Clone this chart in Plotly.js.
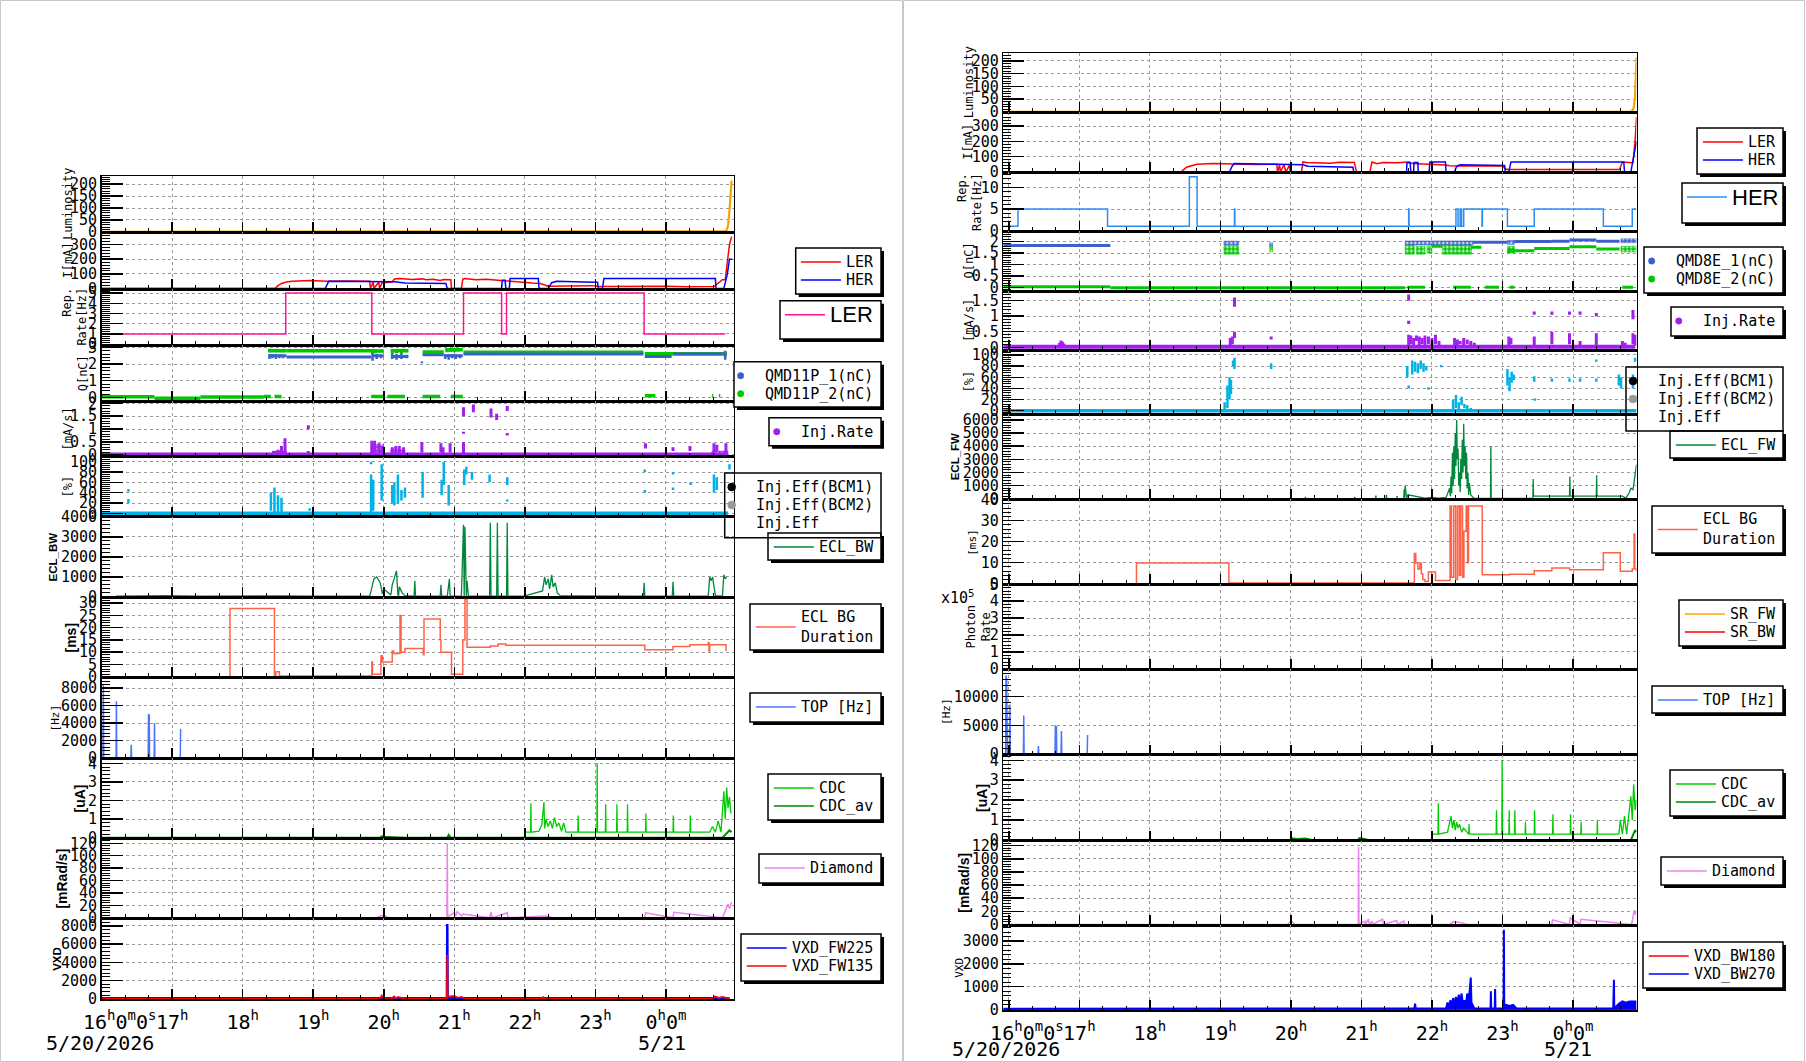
<!DOCTYPE html>
<html>
<head>
<meta charset="utf-8">
<script src="https://cdn.plot.ly/plotly-3.0.1.min.js"></script>
<style>
html,body{margin:0;padding:0;background:#ffffff;overflow:hidden;}
#chart{width:1806px;height:1062px;}
</style>
</head>
<body>
<div id="chart"></div>
<script>
/* ================= DATA : time = hours after 16:00 on 5/20/2026 ================= */
const hourTicks  = [0,1,2,3,4,5,6,7,8];
const hourLabels = ['\u00a0\u00a0\u00a016<sup>h</sup>0<sup>m</sup>0<sup>s</sup>','17<sup>h</sup>','18<sup>h</sup>','19<sup>h</sup>','20<sup>h</sup>','21<sup>h</sup>','22<sup>h</sup>','23<sup>h</sup>','0<sup>h</sup>0<sup>m</sup>'];
const dateLabels = ['5/20/2026','5/21'];

/* ---------- left column (LER side) ---------- */
const lumL_t = [0, 8.80, 8.83, 8.86, 8.88, 8.90, 8.92, 8.93];
const lumL_v = [0, 0, 3, 8, 25, 90, 200, 215];

const lerL_t = [0,2.46,2.50,2.55,2.62,2.70,2.95,3.20,3.50,3.80,3.81,3.85,3.86,3.93,3.94,3.98,4.00,4.12,4.15,4.22,4.40,4.55,4.60,4.70,4.80,4.85,4.95,4.96,5.10,5.12,5.15,5.30,5.45,5.60,5.70,5.75,5.88,5.95,6.10,6.22,6.33,6.95,7.05,8.00,8.30,8.68,8.72,8.80,8.84,8.87,8.90,8.93];
const lerL_v = [0,0,20,35,45,50,55,50,52,50,0,45,0,45,0,45,40,45,65,68,62,66,60,64,55,62,60,0,0,65,68,60,64,58,55,50,45,40,38,35,16,20,14,16,12,14,30,60,60,200,300,354];
const herL_t = [0,3.17,3.22,3.80,3.85,4.15,4.30,4.60,4.88,4.90,5.67,5.68,5.72,5.73,5.78,5.79,6.19,6.20,6.33,6.38,6.45,6.84,7.03,7.04,7.10,7.12,8.70,8.71,8.82,8.87,8.90,8.94];
const herL_v = [0,0,50,50,46,46,38,36,34,0,0,56,56,0,0,68,68,0,0,40,50,45,43,0,0,68,68,0,0,100,200,200];

const repL_t = [0, 2.61, 3.83, 5.13, 5.67, 5.74, 7.69, 8.84];
const repL_v = [1, 5, 1, 5, 1, 5, 1, 1];

const qL1_t = [2.37,2.62,null,2.62,3.82,null,3.84,4.0,null,4.1,4.35,null,4.55,4.85,null,4.87,5.12,null,5.13,7.68,null,7.7,8.08,null,8.1,8.86];
const qL1_v = [2.5,2.5,null,2.42,2.42,null,2.5,2.5,null,2.45,2.45,null,2.55,2.55,null,2.5,2.5,null,2.6,2.6,null,2.45,2.45,null,2.6,2.6];
const qL1s_t  = [2.38,2.42,2.47,2.52,2.57,3.84,3.9,3.96,4.12,4.18,4.25,4.32,4.54,4.87,4.92,4.97,5.02,5.08,5.55,8.84];
const qL1s_lo = [2.3,2.35,2.3,2.35,2.35,2.2,2.3,2.35,2.3,2.25,2.3,2.35,2.05,2.3,2.25,2.35,2.3,2.35,2.55,2.25];
const qL1s_hi = [2.6,2.6,2.6,2.55,2.55,2.6,2.6,2.55,2.6,2.6,2.6,2.55,2.15,2.6,2.6,2.6,2.6,2.55,2.62,2.6];
const qL2_t = [2.37,2.62,null,2.62,3.82,null,3.84,4.0,null,4.1,4.35,null,4.55,4.85,null,4.87,5.12,null,5.13,7.68,null,7.7,8.86,null,0,0.75,null,0.75,1.4,null,1.4,2.3,null,2.3,2.4,null,2.45,2.55,null,3.82,4.0,null,4.05,4.3,null,4.55,4.8,null,4.95,5.12,null,7.7,7.85,null,8.65,8.67,null,8.75,8.77];
const qL2_v = [2.8,2.8,null,2.8,2.8,null,2.78,2.78,null,2.8,2.8,null,2.72,2.72,null,2.85,2.85,null,2.7,2.7,null,2.62,2.62,null,0.03,0.03,null,-0.05,-0.05,null,0.02,0.02,null,0.05,0.05,null,0.05,0.05,null,0.05,0.05,null,0.05,0.05,null,0.05,0.05,null,0.05,0.05,null,0.1,0.1,null,0.1,0.1,null,0.1,0.1];
const qL2s_t  = [2.38,2.42,2.47,2.52,2.57,3.84,3.88,3.96,4.12,4.18,4.25,4.32,4.9,4.95,5.0,5.05,8.84];
const qL2s_lo = [2.7,2.72,2.7,2.72,2.7,2.6,2.65,2.7,2.6,2.65,2.6,2.7,2.7,2.72,2.7,2.75,2.5];
const qL2s_hi = [2.92,2.9,2.92,2.9,2.9,2.9,2.88,2.85,2.9,2.85,2.88,2.85,2.95,2.92,2.9,2.9,2.8];

const injLb_t = [0, 0.45, 0.47, 0.55, 8.85];
const injLb_v = [0.02, 0.02, 0.05, 0.02, 0.02];
const injLs_t  = [2.44,2.5,2.55,2.6,2.93,2.93,3.83,3.87,3.93,3.98,4.12,4.17,4.22,4.28,4.54,4.81,4.84,4.94,5.13,5.13,5.13,5.27,5.52,5.6,5.75,5.75,7.71,8.1,8.34,8.68,8.72,8.85];
const injLs_lo = [0,0,0,0,0.05,1.0,0,0.1,0,0,0,0.05,0,0.05,0.1,0.1,0.05,0.1,0,1.5,0.82,1.65,1.45,1.35,1.7,0.75,0.25,0.15,0.15,0.1,0.15,0];
const injLs_hi = [0.15,0.2,0.35,0.65,0.15,1.15,0.55,0.55,0.45,0.35,0.3,0.35,0.35,0.3,0.5,0.45,0.3,0.45,0.5,1.85,0.9,1.95,1.8,1.6,1.9,0.85,0.45,0.3,0.35,0.45,0.4,0.45];
const injLbox_t0 = [2.42, 3.82, 4.10, 8.65];
const injLbox_t1 = [2.62, 4.00, 4.30, 8.88];
const injLbox_lo = [0, 0, 0, 0];
const injLbox_hi = [0.15, 0.4, 0.2, 0.15];

const effLb_t = [0, 8.88];
const effLb_v = [0, 0];
const effLs_t  = [0.38,0.38,2.40,2.45,2.50,2.55,2.95,3.82,3.82,3.85,3.97,4.12,4.15,4.20,4.25,4.30,4.55,4.82,4.85,4.92,5.14,5.17,5.25,5.50,5.75,5.75,7.70,7.70,8.10,8.10,8.35,8.68,8.72,8.90];
const effLs_lo = [20,42,5,0,0,0,5,0,95,5,25,20,15,20,25,30,30,35,55,15,55,75,65,60,55,23,40,80,75,45,55,40,45,85];
const effLs_hi = [28,47,40,50,35,30,10,75,100,65,95,55,60,75,45,50,80,65,100,55,85,90,80,75,70,27,45,85,80,50,60,75,70,95];

const eclL_t = [0.2,0.5,0.75,0.9,1.4,1.8,2.2,2.6,3.0,3.4,3.8,3.82,3.86,3.9,3.95,3.98,4.0,4.05,4.1,4.12,4.15,4.18,4.2,4.21,4.22,4.26,4.3,4.35,4.43,4.44,4.45,4.6,4.8,4.81,4.82,4.9,4.93,4.94,4.95,5.1,5.13,5.14,5.15,5.17,5.18,5.2,5.35,5.5,5.51,5.52,5.6,5.61,5.62,5.74,5.75,5.76,5.8,6.0,6.25,6.28,6.3,6.33,6.35,6.38,6.4,6.43,6.46,6.5,6.8,7.2,7.5,7.68,7.69,7.7,8.0,8.09,8.1,8.11,8.5,8.6,8.62,8.64,8.66,8.7,8.8,8.82,8.84,8.86];
const eclL_v = [40,50,40,60,40,50,40,50,40,45,50,300,900,1000,700,150,400,250,100,600,900,1300,100,80,500,200,60,40,40,800,40,40,40,600,40,40,900,50,40,40,3600,40,3500,40,800,40,40,40,3700,40,40,3700,40,40,3700,40,40,50,300,1000,600,900,400,1100,500,700,200,60,50,60,40,40,700,40,40,40,750,40,40,40,1000,800,1000,60,40,1100,900,1000];

const durL_t = [1.82,1.82,2.45,2.47,2.52,3.83,3.84,3.96,3.98,4.12,4.14,4.23,4.245,4.30,4.56,4.57,4.80,4.81,4.96,5.12,5.15,5.18,5.51,5.62,5.73,7.70,8.10,8.34,8.60,8.61,8.62,8.85];
const durL_v = [0,27.8,0.3,2,0.3,6,1,8.5,6,10.5,9.5,25,10,11.5,9,23.5,15,10,1,15,31.5,12,12.5,13.3,12.8,11,12.3,13,14,10.5,13,10.5];

const topL_t = [0,0.02,0.025,0.03,0.205,0.21,0.215,0.415,0.42,0.425,0.66,0.665,0.67,0.675,0.68,0.745,0.75,0.755,1.115,1.12];
const topL_v = [0,0,8500,0,0,6500,0,0,1500,0,0,5000,0,4900,0,0,4000,0,0,3300];

const cdcL_t = [0,6.0,6.0,6.08,6.085,6.09,6.2,6.24,6.27,6.28,6.3,6.33,6.36,6.39,6.42,6.45,6.48,6.52,6.55,6.58,6.75,6.755,6.76,7.02,7.025,7.03,7.14,7.145,7.15,7.3,7.305,7.31,7.45,7.455,7.46,7.71,7.715,7.72,8.1,8.105,8.11,8.34,8.345,8.35,8.62,8.66,8.7,8.74,8.78,8.8,8.82,8.84,8.86,8.88,8.9,8.92];
const cdcL_v = [0,0,0.3,0.3,1.85,0.3,0.35,0.7,1.9,0.5,1.0,0.6,0.9,0.5,1.1,0.6,0.8,0.35,0.8,0.3,0.3,1.2,0.3,0.3,4.0,0.3,0.3,1.8,0.3,0.3,1.8,0.3,0.3,1.8,0.3,0.3,1.3,0.3,0.3,1.2,0.3,0.3,1.2,0.3,0.3,0.6,0.3,0.9,0.3,1.2,2.5,1.0,2.7,1.6,2.2,1.3];
const cdcAvL_t = [0,3.95,3.97,4.0,4.3,4.9,4.92,4.95,8.8,8.85,8.9,8.93];
const cdcAvL_v = [0,0,0.08,0.05,0,0,0.15,0,0,0.2,0.4,0.3];

const diaL_t = [0,3.9,3.95,4.0,4.05,4.1,4.895,4.9,4.905,5.0,5.02,5.04,5.1,5.12,5.5,5.52,5.54,5.75,5.76,6.3,6.4,7.7,7.71,8.1,8.11,8.8,8.85,8.88,8.9,8.93];
const diaL_v = [0,0,3,4,1,0,0,120,2,8,3,10,3,6,0,9,0,8,0,3,0,0,8,0,9,0,12,22,15,25];

const vxd225L_t = [0,4.895,4.9,4.905,8.9];
const vxd225L_v = [60,60,8200,60,60];
const vxd135L_t = [0,3.95,3.97,3.99,4.01,4.1,4.15,4.17,4.2,4.3,4.895,4.9,4.905,4.95,5.0,5.05,5.1,5.15,6.25,6.26,6.27,8.65,8.7,8.75,8.8,8.9];
const vxd135L_v = [10,10,350,150,10,10,250,10,200,10,10,4800,300,250,300,100,200,10,10,250,10,10,250,100,200,10];

/* ---------- right column (HER side) ---------- */
const lumR_t = [-0.078,8.82,8.84,8.86,8.88,8.89,8.90];
const lumR_v = [0,0,5,15,60,180,215];

const lerR_t = [-0.078,2.44,2.48,2.52,2.58,2.67,2.9,3.2,3.5,3.8,3.81,3.84,3.85,3.9,3.93,3.98,3.99,4.15,4.17,4.22,4.56,4.69,4.9,4.93,5.12,5.15,5.22,5.3,5.5,5.68,5.72,6.19,6.25,6.4,7.0,7.04,7.07,8.66,8.7,8.8,8.85,8.88,8.9];
const lerR_v = [0,0,15,30,38,50,54,50,48,50,0,45,0,45,0,45,0,0,65,61,57,63,62,0,0,65,54,62,60,65,54,45,40,38,38,20,15,15,65,62,60,200,360];
const herR_t = [-0.078,3.13,3.17,3.2,3.8,4.17,4.24,4.69,4.88,4.89,5.64,5.645,5.69,5.70,5.74,5.745,5.8,5.805,5.96,5.97,6.19,6.2,6.32,6.35,6.4,7.03,7.04,7.09,7.12,8.72,8.73,8.82,8.86,8.9];
const herR_v = [0,0,40,54,50,46,37,30,30,0,0,60,60,0,0,62,62,0,0,65,65,0,0,37,46,41,0,0,65,65,0,0,100,200];

const repR_t = [-0.078,0.13,1.40,2.56,2.67,3.20,3.205,5.67,5.675,6.34,6.37,6.40,6.42,6.45,6.71,6.715,7.07,7.45,8.43,8.84,8.9];
const repR_v = [1,5,1,12.5,1,5,1,5,1,5,1,5,1,5,1,5,1,5,1,5,5];

const qR1_t = [-0.078,1.44,null,6.58,7.07,null,7.17,7.7,null,7.7,7.95,null,7.95,8.33,null,8.33,8.66];
const qR1_v = [1.83,1.83,null,1.97,1.97,null,2.0,2.0,null,2.02,2.02,null,2.07,2.07,null,2.01,2.01];
const qR1box_t0 = [3.05, 3.70, 5.62, 7.07, 8.68];
const qR1box_t1 = [3.26, 3.74, 6.58, 7.17, 8.90];
const qR1box_lo = [1.85, 1.75, 1.85, 1.88, 1.95];
const qR1box_hi = [2.02, 1.95, 2.03, 2.05, 2.12];
const qR2_t = [-0.078,1.44,null,1.44,5.62,null,6.0,6.15,null,6.55,6.7,null,7.07,7.45,null,7.45,7.95,null,7.95,8.33,null,8.33,8.66,null,5.65,5.9,null,6.3,6.55,null,6.75,6.95,null,7.1,7.17,null,8.7,8.85];
const qR2_v = [0.04,0.04,null,0.0,0.0,null,1.8,1.8,null,1.75,1.75,null,1.6,1.6,null,1.7,1.7,null,1.78,1.78,null,1.68,1.68,null,0.02,0.02,null,0.02,0.02,null,0.02,0.02,null,0.02,0.02,null,0.02,0.02];
const qR2box_t0 = [3.05, 3.70, 5.62, 5.78, 5.93, 6.15, 7.07, 8.68];
const qR2box_t1 = [3.26, 3.74, 5.75, 5.90, 6.00, 6.56, 7.17, 8.90];
const qR2box_lo = [1.45, 1.55, 1.45, 1.45, 1.50, 1.45, 1.50, 1.55];
const qR2box_hi = [1.82, 1.80, 1.85, 1.80, 1.80, 1.85, 1.80, 1.80];

const injRb_t = [-0.078, 8.88];
const injRb_v = [0.02, 0.02];
const injRs_t  = [0.72,0.74,0.76,0.78,3.14,3.17,3.2,3.2,3.72,5.67,5.67,5.67,5.7,5.74,5.78,5.82,5.86,5.9,5.95,6.0,6.05,6.1,6.32,6.36,6.4,6.45,6.5,6.55,6.6,7.09,7.12,7.45,7.45,7.7,7.7,7.95,7.95,8.1,8.1,8.33,8.33,8.7,8.74,8.85,8.85,8.88];
const injRs_lo = [0.02,0.05,0.02,0.05,0.02,0.1,0.3,1.3,0.25,0.05,0.75,1.5,0.1,0.05,0.2,0.05,0.1,0.05,0.1,0.05,0.1,0.02,0.05,0.02,0.1,0.05,0.1,0.02,0.05,0.05,0.1,0.05,1.05,0.1,1.05,0.1,1.05,0.05,1.05,0.05,1.0,0.05,0.05,0.1,0.9,0.05];
const injRs_hi = [0.15,0.22,0.18,0.12,0.3,0.35,0.5,1.6,0.35,0.4,0.85,1.7,0.38,0.3,0.38,0.35,0.3,0.38,0.35,0.3,0.4,0.2,0.3,0.25,0.2,0.3,0.25,0.2,0.15,0.35,0.3,0.35,1.15,0.5,1.15,0.45,1.15,0.2,1.15,0.45,1.1,0.2,0.15,0.45,1.2,0.4];

const effRb_t = [-0.078, 8.9];
const effRb_v = [0, 0];
const effRs_t  = [3.06,3.1,3.13,3.15,3.18,3.2,3.72,5.65,5.67,5.72,5.76,5.8,5.84,5.88,5.92,5.95,6.13,6.3,6.34,6.38,6.42,6.46,6.5,6.55,7.07,7.1,7.13,7.16,7.45,7.46,7.7,7.95,8.1,8.33,8.33,8.65,8.68,8.85,8.88,8.88];
const effRs_lo = [0,5,20,30,80,75,75,60,40,65,70,67,75,70,72,38,78,0,5,0,10,5,0,0,45,35,50,55,52,18,52,52,52,52,88,45,40,40,55,88];
const effRs_hi = [15,45,60,55,90,95,85,80,45,90,88,85,90,85,80,42,82,20,28,15,25,12,10,5,75,60,70,65,62,22,58,58,58,58,92,65,60,65,60,95];

const eclR_t = [-0.078,1.0,2.0,3.0,4.0,4.2,4.205,4.21,4.5,4.9,4.905,4.91,5.2,5.205,5.21,5.35,5.355,5.36,5.5,5.505,5.51,5.6,5.605,5.61,5.62,5.64,5.66,5.9,6.0,6.1,6.2,6.25,6.26,6.27,6.28,6.29,6.30,6.31,6.32,6.33,6.34,6.35,6.36,6.37,6.38,6.39,6.40,6.41,6.42,6.43,6.44,6.45,6.46,6.47,6.48,6.49,6.50,6.51,6.52,6.53,6.55,6.58,6.6,6.83,6.835,6.84,7.43,7.435,7.44,7.95,7.955,7.96,8.33,8.335,8.34,8.7,8.75,8.8,8.82,8.85,8.88,8.9];
const eclR_v = [10,10,15,10,15,20,150,20,20,20,150,20,20,250,20,20,300,20,20,200,20,20,700,50,1000,50,300,50,100,50,100,800,200,1700,400,3500,1000,4000,1500,5000,2500,6000,3000,3800,1000,2000,500,3000,1500,4500,2000,5700,2500,4000,1500,3500,800,2000,300,1200,300,100,30,30,4000,30,30,1500,200,200,1700,200,200,1800,200,200,50,500,800,700,2000,2600];

const durR_t = [1.81,1.81,3.12,5.75,5.77,5.80,5.83,5.85,5.87,5.90,5.95,6.05,6.257,6.277,6.309,6.336,6.362,6.388,6.407,6.433,6.453,6.485,6.505,6.518,6.713,7.10,7.45,7.70,7.95,8.43,8.67,8.84,8.865,8.875,8.9];
const durR_v = [0,9.8,0.3,14.3,9.8,7,9.8,4.7,2,1,5.5,1.5,37,3,37,2,37,4,37,3,25,37,10,37,4.2,4.5,6.1,7.5,6.6,14.7,5.9,7,23.6,7,6];

const srFW_t = [-0.078, 8.9];
const srFW_v = [0, 0];
const srBW_t = [-0.078, 8.9];
const srBW_v = [0, 0];

const topR_t = [-0.045,-0.04,-0.035,-0.03,-0.02,0.0,0.01,0.016,0.022,0.207,0.212,0.217,0.415,0.42,0.425,0.655,0.66,0.665,0.67,0.675,0.68,0.741,0.746,0.751,1.112,1.117];
const topR_v = [0,13700,0,13000,0,0,0,8650,0,0,6730,0,0,1400,0,0,5000,0,0,4900,0,0,4000,0,0,3300];

const cdcR_t = [-0.078,6.0,6.0,6.085,6.09,6.095,6.22,6.25,6.27,6.29,6.31,6.33,6.35,6.37,6.39,6.42,6.45,6.52,6.525,6.53,6.91,6.915,6.92,6.99,6.995,7.0,7.09,7.095,7.1,7.17,7.175,7.18,7.32,7.325,7.33,7.45,7.455,7.46,7.71,7.715,7.72,7.96,7.965,7.97,8.11,8.115,8.12,8.34,8.345,8.35,8.65,8.67,8.7,8.73,8.76,8.8,8.82,8.84,8.86,8.88,8.9];
const cdcR_v = [0,0,0.3,0.3,1.85,0.3,0.4,0.8,1.2,0.6,1.0,0.5,0.9,0.6,0.8,0.4,0.6,0.3,0.8,0.3,0.3,1.5,0.3,0.3,4.0,0.3,0.3,1.5,0.3,0.3,1.5,0.3,0.3,0.9,0.3,0.3,1.5,0.3,0.3,1.3,0.3,0.3,1.3,0.3,0.3,0.9,0.3,0.3,1.0,0.3,0.3,1.0,0.3,1.2,0.3,1.5,2.2,1.0,2.8,1.5,2.0];
const cdcAvR_t = [-0.078,4.0,4.02,4.1,4.2,4.3,4.95,4.97,5.05,5.1,8.82,8.85,8.88,8.9];
const cdcAvR_v = [0,0,0.08,0.05,0.08,0,0,0.1,0.05,0,0,0.3,0.5,0.4];

const diaR_t = [-0.078,3.95,3.98,4.02,4.06,4.955,4.96,4.965,5.05,5.06,5.1,5.11,5.15,5.16,5.3,5.31,5.5,5.51,5.6,5.61,6.25,6.3,6.4,6.5,7.7,7.71,7.95,7.96,8.1,8.11,8.83,8.85,8.87,8.88,8.9];
const diaR_v = [0,0,3,4,0,0,118,0,5,0,8,0,5,0,8,0,6,0,5,0,0,4,3,0,0,7,0,10,0,8,0,10,22,15,20];

const vxd270R_t = [-0.078,5.0,5.5,5.75,5.76,5.77,6.2,6.22,6.24,6.26,6.28,6.3,6.32,6.34,6.36,6.38,6.4,6.42,6.44,6.46,6.48,6.5,6.52,6.54,6.55,6.56,6.58,6.6,6.83,6.835,6.84,6.89,6.895,6.9,7.015,7.02,7.025,7.05,7.1,7.15,7.2,8.57,8.58,8.585,8.65,8.7,8.75,8.8,8.85,8.9];
const vxd270R_v = [30,30,40,40,250,40,40,300,100,400,150,500,200,550,250,650,300,700,200,400,150,700,300,900,1400,300,200,40,40,800,40,40,900,40,40,3500,40,200,150,200,40,40,1300,40,250,350,300,350,350,350];
const vxd180R_t = [-0.078, 8.9];
const vxd180R_v = [5, 5];

/* ================= STYLE / LAYOUT ================= */
const W = 1806, H = 1062;
const X = p => p / W;
const Y = p => 1 - p / H;
const MONO = 'DejaVu Sans Mono, monospace';
const SANS = 'Liberation Sans, Arial, sans-serif';

const C = {
  lum:'#f5a300', ler:'#ff0000', her:'#0000ff', repL:'#ff1493', repR:'#2a8ff0',
  q1:'#3c5fcd', q2:'#00c800', inj:'#a020f0', eff:'#00b2e6', ecl:'#00873c',
  dur:'#ff6347', top:'#4a74ff', cdc:'#00cc00', cdcav:'#008800', dia:'#ee82ee',
  vb:'#0000ff', vr:'#ff0000', srf:'#ffa500', srb:'#ff0000'
};

const cols = {
  L: {x0: 101.6, x1: 733.7, range: [0, 8.96]},
  R: {x0: 1003.3, x1: 1636.5, range: [-0.078, 8.90]}
};
const panels = [
  {c:'L', t:176,   b:232.3, r:[-2, 234.6],    d:50,   m:10},
  {c:'L', t:232.3, b:289,   r:[-3, 383.6],    d:100,  m:20},
  {c:'L', t:289,   b:345,   r:[-0.08, 5.4],   d:1,    m:0.2},
  {c:'L', t:345,   b:401,   r:[-0.22, 3.14],  d:1,    m:0.2},
  {c:'L', t:401,   b:456.7, r:[-0.066, 2.09], d:0.5,  m:0.1},
  {c:'L', t:456.7, b:516.7, r:[-6.5, 109.7],  d:20,   m:4},
  {c:'L', t:516.7, b:597.3, r:[-20, 4000],    d:1000, m:200},
  {c:'L', t:597.3, b:677.3, r:[-0.25, 32.4],  d:5,    m:1},
  {c:'L', t:677.3, b:758.3, r:[-60, 9257],    d:2000, m:400},
  {c:'L', t:758.3, b:838.3, r:[-0.03, 4.27],  d:1,    m:0.2},
  {c:'L', t:838.3, b:918.3, r:[-0.8, 128],    d:20,   m:4},
  {c:'L', t:918.3, b:999.3, r:[-60, 8840],    d:2000, m:400, xl:true},
  {c:'R', t:53.3,  b:112.3, r:[-2, 230],      d:50,   m:10},
  {c:'R', t:112.3, b:172.3, r:[-3, 391],      d:100,  m:20},
  {c:'R', t:172.3, b:231,   r:[-0.1, 13.55],  d:5,    m:1},
  {c:'R', t:231,   b:291,   r:[-0.145, 2.46], d:0.5,  m:0.1},
  {c:'R', t:291,   b:350,   r:[-0.087, 1.81], d:0.5,  m:0.1},
  {c:'R', t:350,   b:414,   r:[-5.9, 108.9],  d:20,   m:4},
  {c:'R', t:414,   b:499.2, r:[-30, 6450],    d:1000, m:200},
  {c:'R', t:499.2, b:584.3, r:[-0.3, 40.2],   d:10,   m:2},
  {c:'R', t:584.3, b:669.4, r:[-0.03, 5],     d:1,    m:0.2},
  {c:'R', t:669.4, b:754.5, r:[-80, 14750],   d:5000, m:1000},
  {c:'R', t:754.5, b:840.7, r:[-0.03, 4.29],  d:1,    m:0.2},
  {c:'R', t:840.7, b:925,   r:[-0.8, 127.6],  d:20,   m:4},
  {c:'R', t:925,   b:1010,  r:[-25, 3710],    d:1000, m:200, xl:true}
];

const layout = {
  width: W, height: H, margin: {l:0, r:0, t:0, b:0},
  paper_bgcolor: '#ffffff', plot_bgcolor: '#ffffff',
  showlegend: false, font: {family: MONO, size: 15, color: '#000'},
  shapes: [], annotations: []
};
const sfx = n => (n === 1 ? '' : String(n));

panels.forEach((p, k) => {
  const n = k + 1, col = cols[p.c];
  layout['xaxis' + sfx(n)] = {
    domain: [X(col.x0), X(col.x1)], range: col.range, anchor: 'y' + sfx(n),
    tickmode: 'array', tickvals: hourTicks, ticktext: hourLabels, tickangle: 0,
    showticklabels: !!p.xl, tickfont: {family: MONO, size: 20, color: '#000'},
    ticks: 'inside', ticklen: 10, tickwidth: 1.5, tickcolor: '#000', ticklabelstandoff: 4,
    showgrid: true, gridcolor: '#9a9a9a', griddash: '3px,3px', gridwidth: 1,
    showline: true, linecolor: '#000', linewidth: 1.5, mirror: true, zeroline: false,
    minor: {tickmode: 'linear', tick0: 0, dtick: 1/3, ticks: 'inside', ticklen: 4, tickwidth: 1, tickcolor: '#000', showgrid: false},
    fixedrange: true
  };
  const ya = {
    domain: [Y(p.b), Y(p.t)], range: p.r, anchor: 'x' + sfx(n),
    tickmode: 'linear', tick0: 0, dtick: p.d, exponentformat: 'none',
    tickfont: {family: MONO, size: 15, color: '#000'},
    ticks: 'inside', ticklen: 21, tickwidth: 1.5, tickcolor: '#000',
    showgrid: true, gridcolor: '#9a9a9a', griddash: '3px,3px', gridwidth: 1,
    showline: true, linecolor: '#000', linewidth: 1.5, mirror: true, zeroline: false,
    minor: {tickmode: 'linear', tick0: 0, dtick: p.m, ticks: 'inside', ticklen: 8, tickwidth: 1, tickcolor: '#000', showgrid: false},
    fixedrange: true
  };
  if (p.d >= 1) ya.tickformat = 'd';
  layout['yaxis' + sfx(n)] = ya;
});

/* ================= TRACES ================= */
const traces = [];
function addLine(n, x, y, color, width, shape, extra) {
  traces.push(Object.assign({
    type: 'scatter', mode: 'lines', x: x, y: y,
    xaxis: 'x' + sfx(n), yaxis: 'y' + sfx(n),
    line: {color: color, width: width, shape: shape || 'linear'},
    hoverinfo: 'skip', showlegend: false, connectgaps: false
  }, extra || {}));
}
function addSmear(n, t, lo, hi, color, width) {
  const x = [], y = [];
  for (let i = 0; i < t.length; i++) { x.push(t[i], t[i], null); y.push(lo[i], hi[i], null); }
  addLine(n, x, y, color, width);
}
function addBoxes(n, t0, t1, lo, hi, color, dotted) {
  const x = [], y = [];
  for (let i = 0; i < t0.length; i++) {
    x.push(t0[i], t1[i], t1[i], t0[i], t0[i], null);
    y.push(lo[i], lo[i], hi[i], hi[i], lo[i], null);
  }
  const extra = dotted
    ? {fill: 'toself', fillcolor: 'rgba(0,0,0,0)', fillpattern: {shape: '.', size: 4, solidity: 0.7, fgcolor: color, bgcolor: 'rgba(0,0,0,0)'}}
    : {fill: 'toself', fillcolor: color};
  addLine(n, x, y, color, dotted ? 0.5 : 1, 'linear', extra);
}

// left
addLine(1, lumL_t, lumL_v, C.lum, 2.2);
addLine(2, lerL_t, lerL_v, C.ler, 1.5);
addLine(2, herL_t, herL_v, C.her, 1.5);
addLine(3, repL_t, repL_v, C.repL, 1.5, 'hv');
addLine(4, qL2_t, qL2_v, C.q2, 3.5);
addSmear(4, qL2s_t, qL2s_lo, qL2s_hi, C.q2, 3);
addLine(4, qL1_t, qL1_v, C.q1, 3);
addSmear(4, qL1s_t, qL1s_lo, qL1s_hi, C.q1, 2.5);
addLine(5, injLb_t, injLb_v, C.inj, 4);
addBoxes(5, injLbox_t0, injLbox_t1, injLbox_lo, injLbox_hi, C.inj, true);
addSmear(5, injLs_t, injLs_lo, injLs_hi, C.inj, 3);
addLine(6, effLb_t, effLb_v, C.eff, 3.5);
addSmear(6, effLs_t, effLs_lo, effLs_hi, C.eff, 2.5);
addLine(7, eclL_t, eclL_v, C.ecl, 1.3);
addLine(8, durL_t, durL_v, C.dur, 1.5, 'hv');
addLine(9, topL_t, topL_v, C.top, 1.5);
addLine(10, cdcAvL_t, cdcAvL_v, C.cdcav, 2);
addLine(10, cdcL_t, cdcL_v, C.cdc, 1.3);
addLine(11, diaL_t, diaL_v, C.dia, 1.5);
addLine(12, vxd225L_t, vxd225L_v, C.vb, 2.5);
addLine(12, vxd135L_t, vxd135L_v, C.vr, 1.8);

// right
addLine(13, lumR_t, lumR_v, C.lum, 2.2);
addLine(14, lerR_t, lerR_v, C.ler, 1.5);
addLine(14, herR_t, herR_v, C.her, 1.5);
addLine(15, repR_t, repR_v, C.repR, 1.5, 'hv');
addLine(16, qR1_t, qR1_v, C.q1, 3);
addBoxes(16, qR1box_t0, qR1box_t1, qR1box_lo, qR1box_hi, C.q1, true);
addLine(16, qR2_t, qR2_v, C.q2, 3);
addBoxes(16, qR2box_t0, qR2box_t1, qR2box_lo, qR2box_hi, C.q2, true);
addLine(17, injRb_t, injRb_v, C.inj, 4);
addSmear(17, injRs_t, injRs_lo, injRs_hi, C.inj, 3);
addLine(18, effRb_t, effRb_v, C.eff, 3.5);
addSmear(18, effRs_t, effRs_lo, effRs_hi, C.eff, 2.5);
addLine(19, eclR_t, eclR_v, C.ecl, 1.3);
addLine(20, durR_t, durR_v, C.dur, 1.5, 'hv');
addLine(21, srBW_t, srBW_v, C.srb, 1.5);
addLine(21, srFW_t, srFW_v, C.srf, 1.8);
addLine(22, topR_t, topR_v, C.top, 1.5);
addLine(23, cdcAvR_t, cdcAvR_v, C.cdcav, 2);
addLine(23, cdcR_t, cdcR_v, C.cdc, 1.3);
addLine(24, diaR_t, diaR_v, C.dia, 1.5);
addLine(25, vxd180R_t, vxd180R_v, C.vr, 1.5);
addLine(25, vxd270R_t, vxd270R_v, C.vb, 2, 'linear', {fill: 'tozeroy', fillcolor: C.vb});

/* ================= AXIS TITLES & DATES ================= */
const yTitles = [
  [1, 'Luminosity', 67.7, 'm', 12], [2, 'I[mA]', 67.7, 'm', 12], [3, 'Rep.<br>Rate[Hz]', 74.6, 'm', 12, 'right'],
  [4, 'Q[nC]', 83.3, 'm', 12], [5, '[mA/s]', 67.7, 'm', 12], [6, '[%]', 67.7, 'm', 12],
  [7, 'ECL_BW', 53.4, 'b', 11.5], [8, '[ms]', 71.2, 'b', 14], [9, '[Hz]', 55.6, 'm', 11],
  [10, '[uA]', 80.2, 'b', 14], [11, '[mRad/s]', 62.3, 'b', 14], [12, 'VXD', 57, 'b', 11.5],
  [13, 'Luminosity', 968.5, 'm', 12], [14, 'I[mA]', 968.5, 'm', 12], [15, 'Rep.<br>Rate[Hz]', 969.3, 'm', 12, 'right'],
  [16, 'Q[nC]', 968.5, 'm', 12], [17, '[mA/s]', 968.5, 'm', 12], [18, '[%]', 968.5, 'm', 12],
  [19, 'ECL_FW', 954.7, 'b', 11.5], [20, '[ms]', 973, 'm', 11], [21, 'Photon<br>Rate', 978.6, 'm', 12, 'center'],
  [22, '[Hz]', 947, 'm', 11], [23, '[uA]', 981.3, 'b', 14], [24, '[mRad/s]', 963.9, 'b', 14], [25, 'VXD', 959.3, 'm', 11]
];
yTitles.forEach(tt => {
  const p = panels[tt[0] - 1];
  layout.annotations.push({
    xref: 'paper', yref: 'paper', x: X(tt[2]), y: Y((p.t + p.b) / 2),
    xanchor: 'center', yanchor: 'middle', showarrow: false, textangle: -90,
    text: tt[3] === 'b' ? '<b>' + tt[1] + '</b>' : tt[1], align: tt[5] || 'center',
    font: {family: tt[3] === 'b' ? SANS : MONO, size: tt[4], color: '#000'}
  });
});
layout.annotations.push({xref:'paper', yref:'paper', x:X(957), y:Y(597), xanchor:'center', yanchor:'middle', showarrow:false,
  text:'x10<sup>5</sup>', font:{family:MONO, size:15, color:'#000'}});
[[100.2, 1043, 0], [662, 1043, 1], [1006, 1049, 0], [1568, 1049, 1]].forEach(d => {
  layout.annotations.push({xref:'paper', yref:'paper', x:X(d[0]), y:Y(d[1]), xanchor:'center', yanchor:'middle',
    showarrow:false, text:dateLabels[d[2]], borderpad: 0, font:{family:MONO, size:20, color:'#000'}});
});

/* ================= LEGEND BOXES ================= */
const legendBoxes = [
  {box:[795.7,248,881,294], items:[['LER',C.ler,'line'],['HER',C.her,'line']]},
  {box:[780,300.7,881,339], big:true, items:[['LER',C.repL,'line']]},
  {box:[734,361.7,881,407], items:[['QMD11P_1(nC)',C.q1,'dot'],['QMD11P_2(nC)',C.q2,'dot']]},
  {box:[769,417.7,881,445.7], items:[['Inj.Rate',C.inj,'dot']]},
  {box:[768,533,881,560], items:[['ECL_BW',C.ecl,'line']]},
  {box:[724.7,473,881,537.7], open:true, items:[['Inj.Eff(BCM1)','#000','edge'],['Inj.Eff(BCM2)','#999','edge'],['Inj.Eff',null,'none']]},
  {box:[750,604,881,650], items:[['ECL BG<br>Duration',C.dur,'two']]},
  {box:[750,693,881,722], items:[['TOP [Hz]',C.top,'line']]},
  {box:[768,774,881,820], items:[['CDC',C.cdc,'line'],['CDC_av',C.cdcav,'line']]},
  {box:[759,854,881,883], items:[['Diamond',C.dia,'line']]},
  {box:[741,934,881,981], items:[['VXD_FW225',C.vb,'line'],['VXD_FW135',C.vr,'line']]},
  {box:[1697,128,1783,174], items:[['LER',C.ler,'line'],['HER',C.her,'line']]},
  {box:[1682,183,1783,223], big:true, items:[['HER',C.repR,'line']]},
  {box:[1644,247,1783,293], items:[['QMD8E_1(nC)',C.q1,'dot'],['QMD8E_2(nC)',C.q2,'dot']]},
  {box:[1671,307,1783,336], items:[['Inj.Rate',C.inj,'dot']]},
  {box:[1670,431,1783,458], items:[['ECL_FW',C.ecl,'line']]},
  {box:[1626,367,1783,431], open:true, items:[['Inj.Eff(BCM1)','#000','edge'],['Inj.Eff(BCM2)','#999','edge'],['Inj.Eff',null,'none']]},
  {box:[1652,506,1783,553], items:[['ECL BG<br>Duration',C.dur,'two']]},
  {box:[1679,600,1783,646], items:[['SR_FW',C.srf,'line'],['SR_BW',C.srb,'line']]},
  {box:[1652,686,1783,713], items:[['TOP [Hz]',C.top,'line']]},
  {box:[1670,770,1783,816], items:[['CDC',C.cdc,'line'],['CDC_av',C.cdcav,'line']]},
  {box:[1661,857,1783,885], items:[['Diamond',C.dia,'line']]},
  {box:[1643,942,1783,988], items:[['VXD_BW180',C.vr,'line'],['VXD_BW270',C.vb,'line']]}
];
const CW = 9.03;
function pRect(x0, y0, x1, y1, fill, lc, lw) {
  return {type:'rect', xref:'paper', yref:'paper', x0:X(x0), x1:X(x1), y0:Y(y1), y1:Y(y0),
    fillcolor: fill, line:{color: lc, width: lw}, layer:'above'};
}
function pLine(x0, y0, x1, y1, color, w) {
  return {type:'line', xref:'paper', yref:'paper', x0:X(x0), x1:X(x1), y0:Y(y0), y1:Y(y1),
    line:{color: color, width: w}, layer:'above'};
}
function pDot(cx, cy, r, color) {
  return {type:'circle', xref:'paper', yref:'paper', x0:X(cx - r), x1:X(cx + r), y0:Y(cy + r), y1:Y(cy - r),
    fillcolor: color, line:{color: color, width: 0.5}, layer:'above'};
}
legendBoxes.forEach(L => {
  const [x0, y0, x1, y1] = L.box;
  if (!L.open) layout.shapes.push(pRect(x0 + 3, y0 + 3, x1 + 3, y1 + 3, '#000', '#000', 0));
  layout.shapes.push(pRect(x0, y0, x1, y1, L.open ? 'rgba(0,0,0,0)' : '#ffffff', '#000', 1.5));
  let maxC = 0;
  L.items.forEach(it => { it[0].split('<br>').forEach(s => { maxC = Math.max(maxC, s.length); }); });
  const textW = L.big ? 43 : maxC * CW;
  const tl = x1 - 7 - textW;
  L.items.forEach((it, i) => {
    const cy = it[2] === 'two' ? (y0 + y1) / 2 : y0 + 14 + 18 * i;
    if (it[2] === 'line' || it[2] === 'two') layout.shapes.push(pLine(tl - 46, cy, tl - 6, cy, it[1], 1.5));
    if (it[2] === 'dot') layout.shapes.push(pDot(tl - 25, cy, 3.2, it[1]));
    if (it[2] === 'edge') layout.shapes.push(pDot(x0 + 7, cy, 4, it[1]));
    layout.annotations.push({
      xref:'paper', yref:'paper', x: X(tl - 2), y: Y(cy), xanchor:'left', yanchor:'middle', showarrow:false,
      text: it[0], align:'left', borderpad: 0,
      font: L.big ? {family: SANS, size: 22, color: '#000'} : {family: MONO, size: 15, color: '#000'}
    });
  });
});

/* page frames */
layout.shapes.push(pRect(0.5, 0.5, 902.5, 1061.5, 'rgba(0,0,0,0)', '#c8c8c8', 1));
layout.shapes.push(pRect(903.5, 0.5, 1804.5, 1061.5, 'rgba(0,0,0,0)', '#c8c8c8', 1));

Plotly.newPlot('chart', traces, layout, {staticPlot: true, displayModeBar: false});
</script>
</body>
</html>
